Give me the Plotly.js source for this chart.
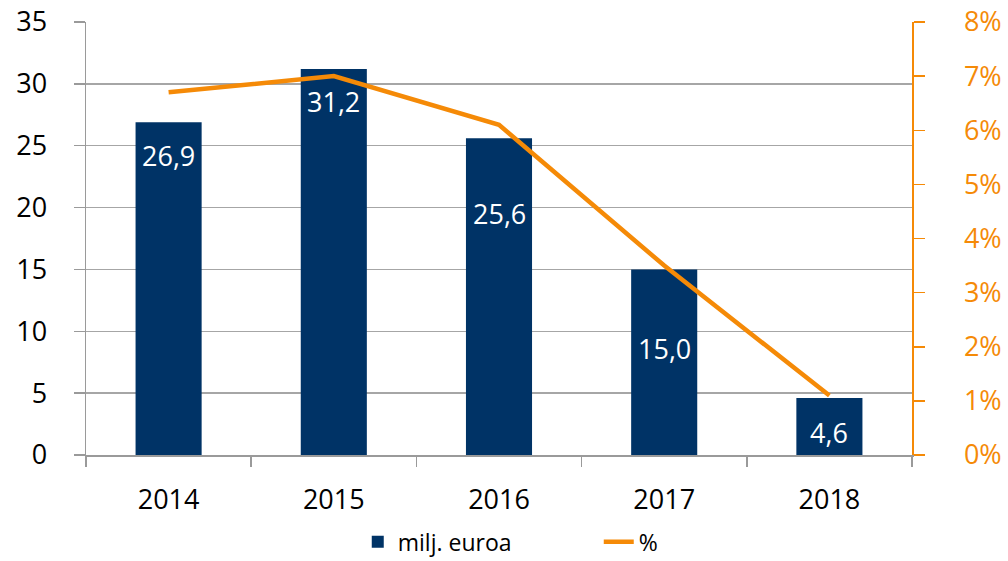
<!DOCTYPE html>
<html><head><meta charset="utf-8">
<script src="https://cdn.plot.ly/plotly-3.0.1.min.js"></script>
<style>body{margin:0;background:#fff}#c{width:1008px;height:561px}</style>
</head><body><div id="c"></div>
<script>
const years = ['2014','2015','2016','2017','2018'];
const eurValues = [26.9, 31.2, 25.6, 15.0, 4.6];
const pctValues = [6.7, 7.0, 6.1, 3.5, 1.1];
const barLabels = ['26,9','31,2','25,6','15,0','4,6'];

const navy = '#003366';
const orange = '#F58A07';
const grey = '#9a9a9a';
const font = '"Open Sans", "Noto Sans", sans-serif';
const labelShift = [-33, -32, -75, -79, -34];

const traces = [
  {type:'bar', x:years, y:eurValues, name:'milj. euroa', marker:{color:navy}, width:0.4, hoverinfo:'none'},
  {type:'scatter', mode:'lines', x:years, y:pctValues, name:'%', yaxis:'y2',
   line:{color:orange, width:4.5}, hoverinfo:'none'}
];

const annotations = years.map((yr,i)=>({
  x:i, y:eurValues[i], xref:'x', yref:'y', text:barLabels[i], showarrow:false,
  yshift:labelShift[i], font:{family:font, size:27, color:'#ffffff'}
}));

const layout = {
  width:1008, height:561,
  margin:{l:86, r:96, t:22, b:106, autoexpand:false},
  paper_bgcolor:'#fff', plot_bgcolor:'#fff',
  font:{family:font, size:26, color:'#000'},
  showlegend:true,
  legend:{orientation:'h', x:0.329, xanchor:'left', y:-0.25, yanchor:'bottom',
    entrywidth:196, entrywidthmode:'pixels', bgcolor:'rgba(0,0,0,0)',
    font:{family:font, size:23, color:'#000'}, traceorder:'normal'},
  xaxis:{type:'category', range:[-0.5,4.5], automargin:false, showline:true, linecolor:grey, linewidth:1.5,
    ticks:'outside', tickson:'boundaries', ticklen:10, tickcolor:grey, tickwidth:1.5,
    ticklabelstandoff:20,
    tickfont:{family:font, size:27, color:'#000'}, showgrid:false, zeroline:false},
  yaxis:{range:[0,35], dtick:5, automargin:false, showline:true, linecolor:grey, linewidth:1.5,
    ticks:'outside', ticklen:11, tickcolor:grey, tickwidth:1.5, ticklabelstandoff:21,
    showgrid:true, gridcolor:'#a6a6a6', gridwidth:1.5, zeroline:false,
    tickfont:{family:font, size:27, color:'#000'}},
  yaxis2:{range:[0,8], dtick:1, overlaying:'y', side:'right', ticksuffix:'%', automargin:false,
    showline:true, linecolor:orange, linewidth:1.5, ticks:'outside', ticklen:11,
    tickcolor:orange, tickwidth:1.5, ticklabelstandoff:34, showgrid:false, zeroline:false,
    tickfont:{family:font, size:27, color:orange}},
  annotations:annotations
};
Plotly.newPlot('c', traces, layout, {displayModeBar:false, staticPlot:true});
</script>
</body></html>
